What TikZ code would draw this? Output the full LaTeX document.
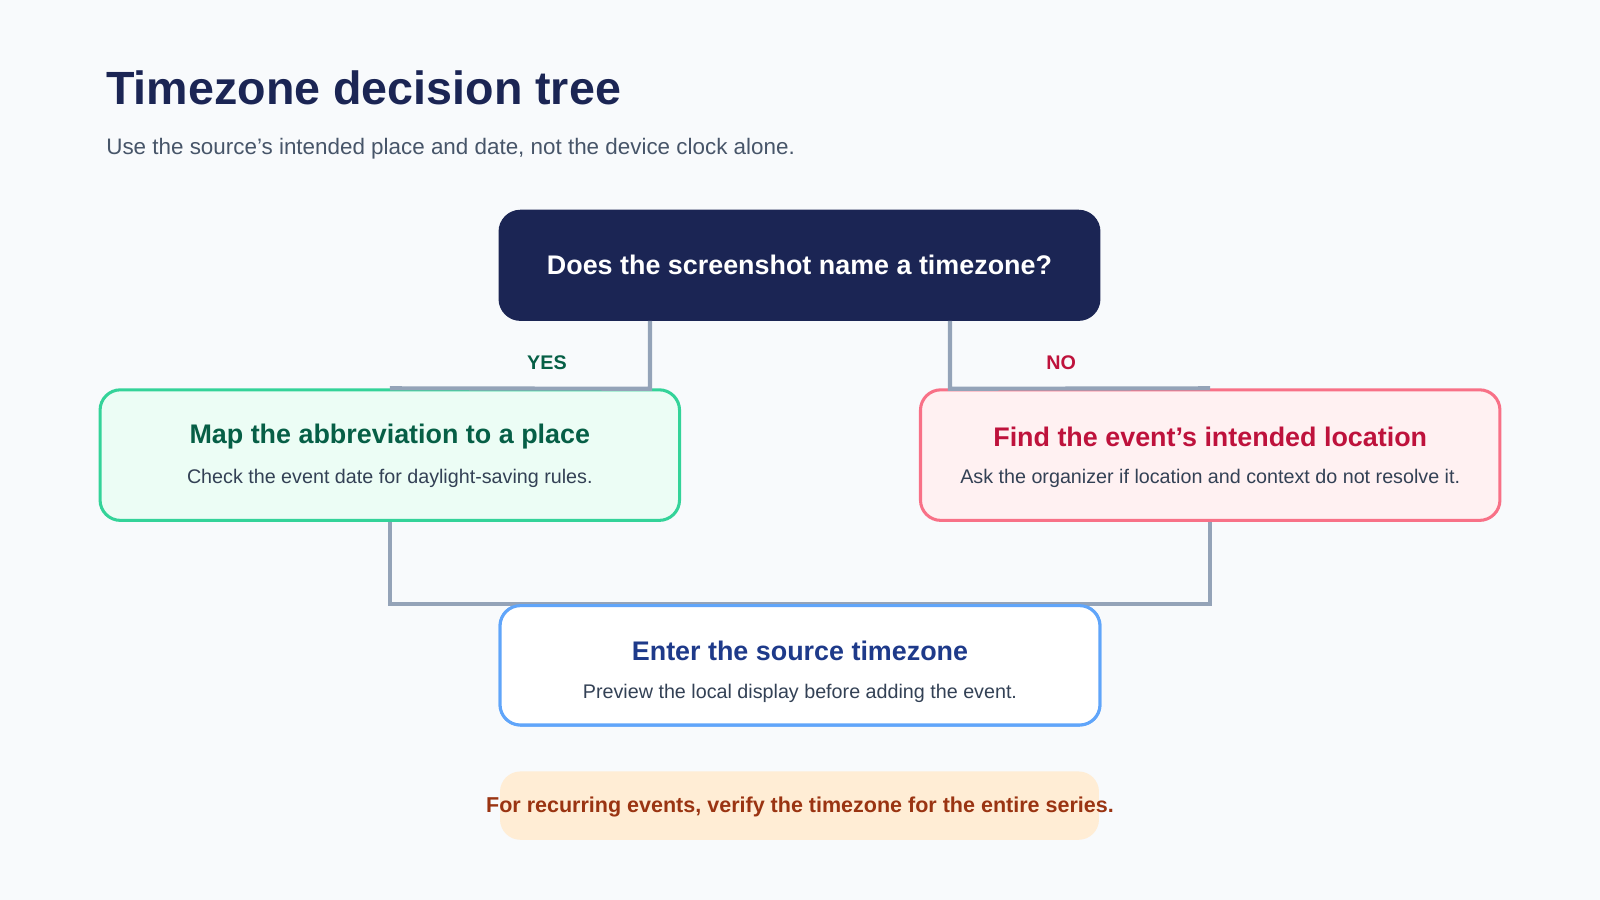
\documentclass[tikz,border=0pt]{standalone}
\usepackage{fontspec}
\setmainfont{Liberation Sans}
\usetikzlibrary{positioning}
\definecolor{bgcol}{HTML}{F8FAFC}
\definecolor{navy}{HTML}{1B2554}
\definecolor{slate}{HTML}{475569}
\definecolor{bodytxt}{HTML}{334155}
\definecolor{linkcol}{HTML}{94A3B8}
\definecolor{yesfill}{HTML}{ECFDF5}
\definecolor{yesline}{HTML}{34D399}
\definecolor{yestxt}{HTML}{065F46}
\definecolor{nofill}{HTML}{FFF1F2}
\definecolor{noline}{HTML}{F87187}
\definecolor{notxt}{HTML}{BE123C}
\definecolor{endline}{HTML}{60A5FA}
\definecolor{endtxt}{HTML}{1E3A8A}
\definecolor{notefill}{HTML}{FFEDD5}
\definecolor{notetxt}{HTML}{9A3412}

\tikzset{
  box/.style={draw, line width=1.7pt, rounded corners=0.4cm, align=center, inner sep=0pt},
  link/.style={draw=linkcol, line width=2.3pt},
  boxtitle/.style={font=\fontsize{15}{18}\selectfont\bfseries},
}

\begin{document}
\begin{tikzpicture}[x=0.02cm,y=-0.02cm]
    % canvas
    \fill[bgcol] (0,0) rectangle (1568,882);
    \useasboundingbox (0,0) rectangle (1568,882);

    % heading
    \node[anchor=base west, text=navy, font=\fontsize{26}{30}\selectfont\bfseries] (title) at (98,102) {Timezone decision tree};
    \node[anchor=base west, text=slate, font=\fontsize{12.5}{15}\selectfont] (subtitle) at (98,151) {Use the source's intended place and date, not the device clock alone.};

    % decision
    \node[box, fill=navy, draw=navy, minimum width=11.74cm, minimum height=2.12cm, text=white, boxtitle] (ask) at (783.5,260) {Does the screenshot name a timezone?};

    % branches
    \node[box, fill=yesfill, draw=yesline, minimum width=11.36cm, minimum height=2.56cm] (yes) at (382,446) {};
    \node[text=yestxt, boxtitle] (yestitle) at (382,428) {Map the abbreviation to a place};
    \node[text=bodytxt, font=\fontsize{11}{13}\selectfont] (yesbody) at (382,469) {Check the event date for daylight-saving rules.};

    \node[box, fill=nofill, draw=noline, minimum width=11.36cm, minimum height=2.56cm] (no) at (1186,446) {};
    \node[text=notxt, boxtitle] (notitle) at (1186,428) {Find the event's intended location};
    \node[text=bodytxt, font=\fontsize{11}{13}\selectfont] (nobody) at (1186,469) {Ask the organizer if location and context do not resolve it.};

    % result
    \node[box, fill=white, draw=endline, minimum width=11.76cm, minimum height=2.34cm] (enter) at (784,652) {};
    \node[text=endtxt, boxtitle] (entertitle) at (784,638) {Enter the source timezone};
    \node[text=bodytxt, font=\fontsize{11}{13}\selectfont] (enterbody) at (784,680) {Preview the local display before adding the event.};

    % connectors
    \coordinate (yesturn) at (637,381);
    \coordinate (noturn) at (931,381);
    \coordinate (yesdown) at (382,592);
    \coordinate (nodown) at (1186,592);
    \draw[link] (ask.south -| yesturn) -- (yesturn) -- (yes.north);
    \draw[link] (ask.south -| noturn) -- (noturn) -- (no.north);
    \draw[link] (yes.south) -- (yesdown) -- (nodown) -- (no.south);
    \node[text=yestxt, font=\fontsize{11}{13}\selectfont\bfseries] (yeslabel) at (536,355) {YES};
    \node[text=notxt, font=\fontsize{11}{13}\selectfont\bfseries] (nolabel) at (1040,355) {NO};
    \node[box, fill=white, draw=endline, minimum width=11.76cm, minimum height=2.34cm] at (enter) {};
    \node[text=endtxt, boxtitle] at (entertitle) {Enter the source timezone};
    \node[text=bodytxt, font=\fontsize{11}{13}\selectfont] at (enterbody) {Preview the local display before adding the event.};

    % footnote
    \fill[notefill, rounded corners=0.4cm] (490,756) rectangle (1077,823);
    \node[text=notetxt, font=\fontsize{12}{14}\selectfont\bfseries] (note) at (784,791) {For recurring events, verify the timezone for the entire series.};
\end{tikzpicture}
\end{document}
